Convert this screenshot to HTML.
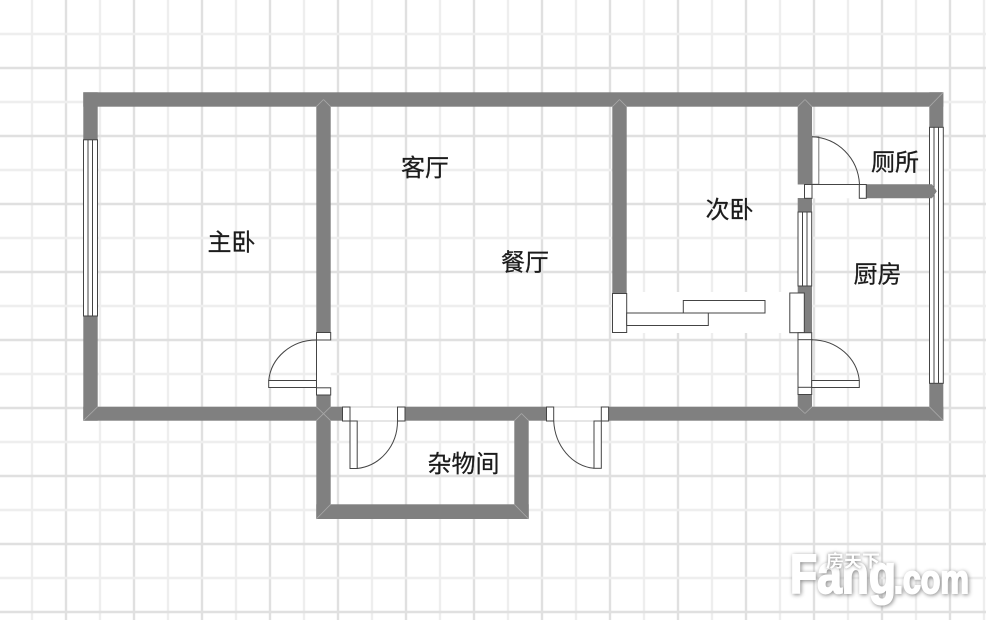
<!DOCTYPE html>
<html lang="zh">
<head>
<meta charset="utf-8">
<style>
html,body{margin:0;padding:0;background:#fff;width:986px;height:620px;overflow:hidden}
svg{display:block;filter:blur(.35px)}
.g1{stroke:#e0e0e0;stroke-width:2.4}
.g2{stroke:#eeeeee;stroke-width:2.4}
.w{fill:#808080}
.o{fill:#fff;stroke:#444;stroke-width:1}
.l{stroke:#444;stroke-width:1;fill:none}
.j{stroke:#a8a8a8;stroke-width:.8;fill:none}
.t{font-family:"Liberation Sans","Noto Sans CJK SC",sans-serif;font-size:24px;fill:#1c1c1c;stroke:#1c1c1c;stroke-width:.25}
.m{font-family:"Liberation Sans",sans-serif;font-weight:bold;fill:#fff;stroke:#fff;stroke-width:2;filter:drop-shadow(1px 1px 2px #888)}
.c{font-family:"Liberation Sans","Noto Sans CJK SC",sans-serif;font-weight:bold;font-size:17px;fill:#fff;filter:drop-shadow(0 0 1.5px #777)}
</style>
</head>
<body>
<svg width="986" height="620" viewBox="0 0 986 620" xmlns="http://www.w3.org/2000/svg">
<rect width="986" height="620" fill="#fff"/>
<g>
<line class="g2" x1="32" y1="0" x2="32" y2="620"/><line class="g1" x1="66" y1="0" x2="66" y2="620"/>
<line class="g2" x1="100" y1="0" x2="100" y2="620"/><line class="g1" x1="134" y1="0" x2="134" y2="620"/>
<line class="g2" x1="168" y1="0" x2="168" y2="620"/><line class="g1" x1="202" y1="0" x2="202" y2="620"/>
<line class="g2" x1="236" y1="0" x2="236" y2="620"/><line class="g1" x1="270" y1="0" x2="270" y2="620"/>
<line class="g2" x1="304" y1="0" x2="304" y2="620"/><line class="g1" x1="338" y1="0" x2="338" y2="620"/>
<line class="g2" x1="372" y1="0" x2="372" y2="620"/><line class="g1" x1="406" y1="0" x2="406" y2="620"/>
<line class="g2" x1="440" y1="0" x2="440" y2="620"/><line class="g1" x1="474" y1="0" x2="474" y2="620"/>
<line class="g2" x1="508" y1="0" x2="508" y2="620"/><line class="g1" x1="542" y1="0" x2="542" y2="620"/>
<line class="g2" x1="576" y1="0" x2="576" y2="620"/><line class="g1" x1="610" y1="0" x2="610" y2="620"/>
<line class="g2" x1="644" y1="0" x2="644" y2="620"/><line class="g1" x1="678" y1="0" x2="678" y2="620"/>
<line class="g2" x1="712" y1="0" x2="712" y2="620"/><line class="g1" x1="746" y1="0" x2="746" y2="620"/>
<line class="g2" x1="780" y1="0" x2="780" y2="620"/><line class="g1" x1="814" y1="0" x2="814" y2="620"/>
<line class="g2" x1="848" y1="0" x2="848" y2="620"/><line class="g1" x1="882" y1="0" x2="882" y2="620"/>
<line class="g2" x1="916" y1="0" x2="916" y2="620"/><line class="g1" x1="950" y1="0" x2="950" y2="620"/>
<line class="g2" x1="984" y1="0" x2="984" y2="620"/>
<line class="g2" x1="0" y1="34" x2="986" y2="34"/><line class="g1" x1="0" y1="68" x2="986" y2="68"/>
<line class="g2" x1="0" y1="102" x2="986" y2="102"/><line class="g1" x1="0" y1="136" x2="986" y2="136"/>
<line class="g2" x1="0" y1="170" x2="986" y2="170"/><line class="g1" x1="0" y1="204" x2="986" y2="204"/>
<line class="g2" x1="0" y1="238" x2="986" y2="238"/><line class="g1" x1="0" y1="272" x2="986" y2="272"/>
<line class="g2" x1="0" y1="306" x2="986" y2="306"/><line class="g1" x1="0" y1="340" x2="986" y2="340"/>
<line class="g2" x1="0" y1="374" x2="986" y2="374"/><line class="g1" x1="0" y1="408" x2="986" y2="408"/>
<line class="g2" x1="0" y1="442" x2="986" y2="442"/><line class="g1" x1="0" y1="476" x2="986" y2="476"/>
<line class="g2" x1="0" y1="510" x2="986" y2="510"/><line class="g1" x1="0" y1="544" x2="986" y2="544"/>
<line class="g2" x1="0" y1="578" x2="986" y2="578"/><line class="g1" x1="0" y1="612" x2="986" y2="612"/>
</g>

<!-- white clearing behind the sliding door -->
<rect x="626" y="292" width="172" height="41" fill="#fff"/>

<!-- walls -->
<rect class="w" x="83.3" y="92.3" width="860" height="14.4"/>
<rect class="w" x="83.3" y="92.3" width="14.4" height="47.5"/>
<rect class="w" x="83.3" y="316" width="14.4" height="104.7"/>
<rect class="w" x="83.3" y="406.7" width="860" height="14"/>
<rect class="w" x="316.3" y="100" width="14.4" height="232.5"/>
<rect class="w" x="316.3" y="395" width="14.4" height="124"/>
<rect class="w" x="316.3" y="504.3" width="212.4" height="14.7"/>
<rect class="w" x="514.3" y="407" width="14.4" height="112"/>
<rect class="w" x="612.3" y="100" width="14.4" height="193.5"/>
<rect class="w" x="797.7" y="100" width="14.3" height="84.5"/>
<rect class="w" x="797.7" y="198" width="14.3" height="14"/>
<rect class="w" x="797.7" y="286" width="14.3" height="47"/>
<rect class="w" x="797.7" y="394.5" width="14.3" height="13"/>
<rect class="w" x="929.3" y="92.3" width="14" height="35"/>
<rect class="w" x="929.3" y="383.3" width="14" height="37.4"/>

<!-- joints -->
<path class="j" d="M323.5 99.5 L316.3 106.7 M323.5 99.5 L330.7 106.7"/>
<path class="j" d="M619.5 99.5 L612.3 106.7 M619.5 99.5 L626.7 106.7"/>
<path class="j" d="M805 99.5 L797.7 106.7 M805 99.5 L812 106.7"/>
<path class="j" d="M943.3 92.3 L929.3 106.7 M943.3 420.7 L929.3 406.7"/>
<path class="j" d="M83.3 420.7 L97.7 406.7"/>
<path class="j" d="M316.3 406.7 L330.7 420.7 M330.7 406.7 L316.3 420.7"/>
<path class="j" d="M316.3 519 L330.7 504.3 M528.7 519 L514.3 504.3"/>
<path class="j" d="M521.5 413.5 L514.3 420.7 M521.5 413.5 L528.7 420.7"/>
<path class="j" d="M805 413.5 L797.7 406.7 M805 413.5 L812 406.7"/>

<!-- left window -->
<rect class="o" x="83.5" y="139.8" width="14" height="176.2"/>
<path class="l" d="M88 139.8V316M92.5 139.8V316" stroke="#666"/>

<!-- right windows -->
<rect class="o" x="929.5" y="127.3" width="13.8" height="256"/>
<path class="l" d="M934 127.3V383.3M938.5 127.3V383.3"/>
<rect class="o" x="798" y="212" width="13.7" height="74"/>
<path class="l" d="M802.5 212V286M807 212V286"/>

<!-- toilet partition, tip overlaps the window -->
<polygon class="w" points="866,184.3 932,184.3 936.8,191.3 932,198.3 866,198.3"/>

<!-- bedroom door -->
<rect x="316.3" y="340" width="14.4" height="48" fill="#fff"/>
<rect class="o" x="316.5" y="332.5" width="14.2" height="7.5"/>
<rect class="o" x="316.5" y="387.8" width="14.2" height="7.2"/>
<path class="l" d="M316.5 340V388"/>
<rect class="o" x="268.7" y="380.5" width="47.8" height="7"/>
<path class="l" d="M316.5 340 C291 340 271 358 268.7 380.5"/>

<!-- storage door -->
<rect x="350" y="407" width="47.5" height="14" fill="#fff"/>
<path d="M350 421H397.5M350 407H397.5" stroke="#ccc" stroke-width="1"/>
<rect class="o" x="342.5" y="407" width="7.5" height="14"/>
<rect class="o" x="397.5" y="407" width="7.5" height="14"/>
<rect class="o" x="350" y="421" width="7.2" height="47.5"/>
<path class="l" d="M357 468.5 C380 466 397.5 446 397.5 421"/>

<!-- entry door -->
<rect x="553.7" y="407" width="47.5" height="14" fill="#fff"/>
<path d="M553.7 421H601M553.7 407H601" stroke="#ccc" stroke-width="1"/>
<rect class="o" x="546.5" y="407" width="7.2" height="14"/>
<rect class="o" x="601.3" y="407" width="7.3" height="14"/>
<rect class="o" x="594" y="421" width="7.3" height="47.3"/>
<path class="l" d="M553.7 421 C555 446 572 466 594 468.3"/>

<!-- second bedroom sliding door -->
<rect class="o" x="612.5" y="293.5" width="14.2" height="39"/>
<rect class="o" x="626.7" y="313" width="81.6" height="12.5"/>
<rect class="o" x="683.3" y="300.5" width="81.7" height="12.5"/>

<!-- toilet door -->
<rect x="812" y="184.3" width="48" height="14" fill="#fff"/>
<rect class="o" x="812" y="136.8" width="6.8" height="47.5" style="stroke:#777"/>
<path class="l" d="M812 184.5H859.5"/>
<rect class="o" x="804.5" y="184.5" width="7.5" height="13.8"/>
<rect class="o" x="859.3" y="184.5" width="7" height="13.8"/>
<path class="l" d="M812 136.8 C838 138 858 158 859.5 184.3"/>

<!-- kitchen door -->
<rect class="o" x="789.8" y="293" width="14.5" height="39.7"/>
<rect x="798" y="339" width="13.7" height="48" fill="#fff"/>
<rect class="o" x="798" y="332.7" width="13.7" height="7"/>
<path class="l" d="M798 339V387M811.7 339V387"/>
<rect class="o" x="798" y="387.3" width="13.7" height="7.2"/>
<rect class="o" x="811.7" y="380.5" width="47.6" height="7"/>
<path class="l" d="M811.7 339.7 C837 340 857 358 859.3 380.5"/>

<!-- labels -->
<text class="t" x="207.5" y="250.5">主卧</text>
<text class="t" x="401" y="176">客厅</text>
<text class="t" x="501" y="270.5">餐厅</text>
<text class="t" x="705.5" y="218">次卧</text>
<text class="t" x="871" y="170.5">厕所</text>
<text class="t" x="853.5" y="282.5">厨房</text>
<text class="t" x="427.5" y="472">杂物间</text>

<!-- watermark -->
<text class="m" x="790" y="593" font-size="55" textLength="106" lengthAdjust="spacingAndGlyphs">Fang</text>
<text class="m" x="894" y="593" font-size="40" textLength="75" lengthAdjust="spacingAndGlyphs">.com</text>
<text class="c" x="826" y="567" textLength="54" lengthAdjust="spacingAndGlyphs">房天下</text>
</svg>
</body>
</html>
